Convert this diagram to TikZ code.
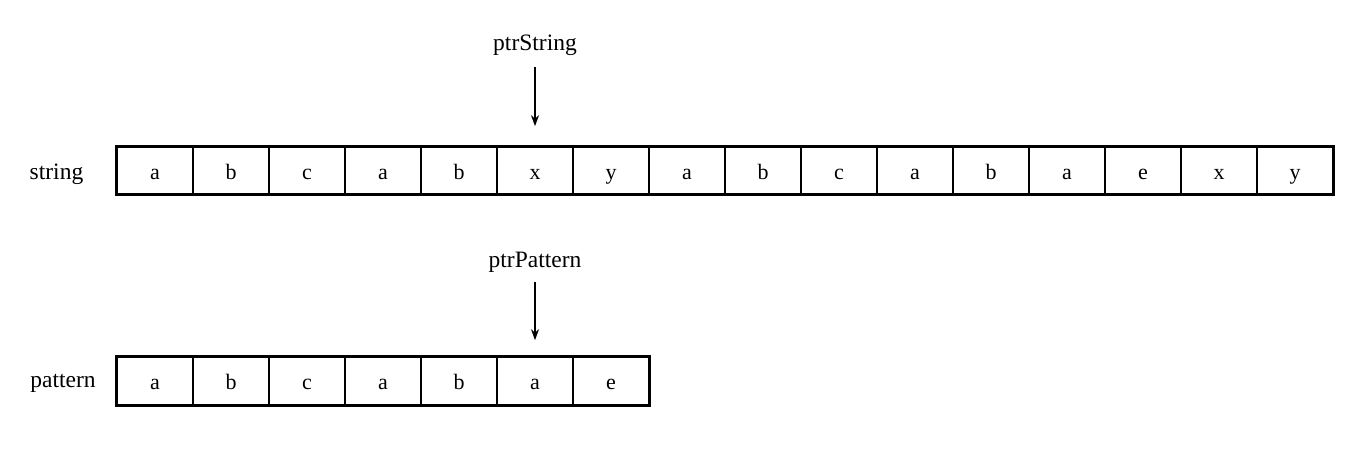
\documentclass[tikz,border=0pt]{standalone}
\usepackage{fontspec}
\setmainfont{Liberation Serif}
\usetikzlibrary{arrows.meta}
\begin{document}
\begin{tikzpicture}[x=1pt,y=-1pt,
  cell/.style={draw, line width=1.7pt, minimum width=76pt, minimum height=47pt, inner sep=0pt, font=\fontsize{22}{26}\selectfont, text height=18pt, text depth=1pt, anchor=center},
  lbl/.style={inner sep=0pt, font=\fontsize{23.5}{28}\selectfont, text height=15pt, text depth=5pt},
  ptr/.style={-{Stealth[length=11pt,width=8pt]}, line width=1.6pt}]
\useasboundingbox (0,0) rectangle (1364,456);
\foreach \c [count=\i] in {a,b,c,a,b,x,y,a,b,c,a,b,a,e,x,y}{
  \node[cell] (s\i) at ({117+76*(\i-0.5)},170.5) {\c};
}
\foreach \c [count=\i] in {a,b,c,a,b,a,e}{
  \node[cell, minimum height=48pt] (p\i) at ({117+76*(\i-0.5)},381) {\c};
}
\draw[line width=2.8pt] (s1.north west) rectangle (s16.south east);
\draw[line width=2.8pt] (p1.north west) rectangle (p7.south east);
\node[lbl] (strlbl) at (56.5,174) {string};
\node[lbl] (patlbl) at (63,382) {pattern};
\node[lbl] (ptrS) at (535,45) {ptrString};
\node[lbl] (ptrP) at (535,262) {ptrPattern};
\draw[ptr, shorten <=12pt, shorten >=20pt] (ptrS.south) -- (s6.north);
\draw[ptr, shorten <=10pt, shorten >=16pt] (ptrP.south) -- (p6.north);
\end{tikzpicture}
\end{document}
